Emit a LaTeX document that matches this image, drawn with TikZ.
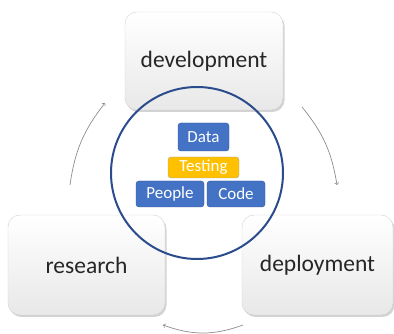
\documentclass[tikz,border=0pt]{standalone}
\usepackage{fontspec}
\setmainfont{Carlito}
\usetikzlibrary{shadows}
\definecolor{tileblue}{HTML}{4472C4}
\definecolor{tileedge}{HTML}{2F5597}
\definecolor{tileyellow}{HTML}{FFC000}
\definecolor{ringblue}{HTML}{2B4C8C}
\definecolor{loopgray}{HTML}{8C8C8C}
\begin{document}
\begin{tikzpicture}[x=1pt, y=1pt]
    \tikzstyle{stage}=[draw=gray!35, rounded corners=12pt, top color=white, bottom color=gray!18,
      text=black!85, font=\fontsize{23.5}{28}\selectfont,
      drop shadow={opacity=.35, shadow xshift=1.5pt, shadow yshift=-2pt}]
    \tikzstyle{tile}=[draw=tileedge, fill=tileblue, rounded corners=3pt, text=white,
      font=\fontsize{17}{19}\selectfont, inner sep=0pt, minimum height=26pt]
    \tikzstyle{loop}=[draw=loopgray, line width=.7pt, ->]
    \useasboundingbox (0,0) rectangle (394,334);
    % the three stages
    \node[stage, minimum width=158pt, minimum height=98pt] (dev) at (204,273) {development};
    \node[stage, minimum width=157pt, minimum height=100pt] (res) at (86.5,69) {research};
    \node[stage, minimum width=151pt, minimum height=100pt] (dep) at (317.5,69) {deployment};
    % loop between them
    \coordinate (resout) at (70,149);
    \coordinate (devin) at (105,231);
    \coordinate (devout) at (302,227);
    \coordinate (depin) at (337,149);
    \coordinate (depout) at (243,9);
    \coordinate (resin) at (163,9);
    \draw[loop] (resout) to[bend left=15] (devin);
    \draw[loop] (devout) to[bend left=15] (depin);
    \draw[loop] (depout) to[bend left=20] (resin);
    % core in the middle
    \node[draw=ringblue, line width=2pt, circle, minimum size=172pt] (core) at (197,161) {};
    \node[tile, minimum width=51pt, minimum height=28pt] (data) at (203.5,197) {Data};
    \node[tile, draw=gray!70, fill=tileyellow, minimum width=71pt, minimum height=21pt] (test) at (203.5,166.5) {Testing};
    \node[tile, minimum width=68pt] (people) at (170,140) {People};
    \node[tile, minimum width=58pt] (code) at (236,140) {Code};
\end{tikzpicture}
\end{document}
